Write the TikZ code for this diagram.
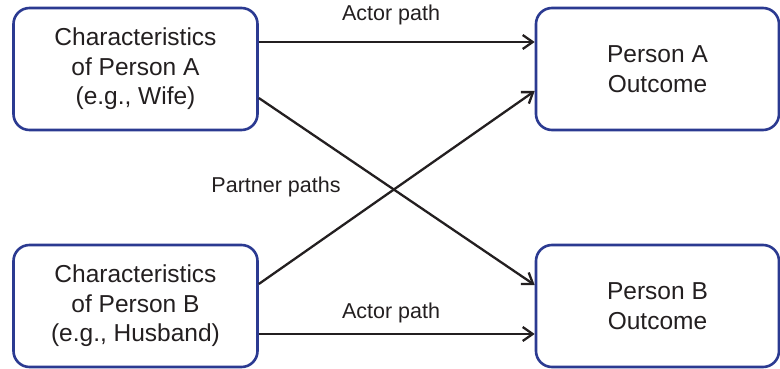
\documentclass[tikz,border=0pt]{standalone}
\usepackage{fontspec}
\setmainfont{Liberation Sans}
\usetikzlibrary{arrows.meta}
\definecolor{boxblue}{RGB}{43,58,145}
\definecolor{ink}{RGB}{35,31,32}
\tikzset{
  box/.style={draw=boxblue, line width=2.6pt, rounded corners=16pt, fill=white,
    minimum width=244pt, minimum height=122pt, align=center, text=ink,
    font=\fontsize{24.5}{29.5}\selectfont, inner sep=0pt},
  conn/.style={draw=ink, line width=2.3pt, -{Straight Barb[length=10pt,width=14pt,line width=2.3pt]}},
  lbl/.style={text=ink, font=\fontsize{21.5}{26}\selectfont, inner sep=0pt}
}
\begin{document}
\begin{tikzpicture}[x=1pt,y=-1pt]
\useasboundingbox (0,0) rectangle (780,369);
\node[box] (pa) at (135.5,69) {Characteristics\\of Person A\\(e.g., Wife)};
\node[box] (pb) at (135.5,306) {Characteristics\\of Person B\\(e.g., Husband)};
\node[box, minimum width=243pt] (oa) at (657.5,69) {Person A\\Outcome};
\node[box, minimum width=243pt] (ob) at (657.5,306) {Person B\\Outcome};
\draw[conn] (pa.east |- 0,42) -- (oa.west |- 0,42);
\draw[conn] (pb.east |- 0,334) -- (ob.west |- 0,334);
\draw[conn] (pa.east |- 0,98) -- (ob.west |- 0,285);
\draw[conn] (pb.east |- 0,284) -- (oa.west |- 0,91);
\node[lbl] (l1) at (391,15) {Actor path};
\node[lbl] (l2) at (391,313) {Actor path};
\node[lbl] (l3) at (276,187) {Partner paths};
\end{tikzpicture}
\end{document}
